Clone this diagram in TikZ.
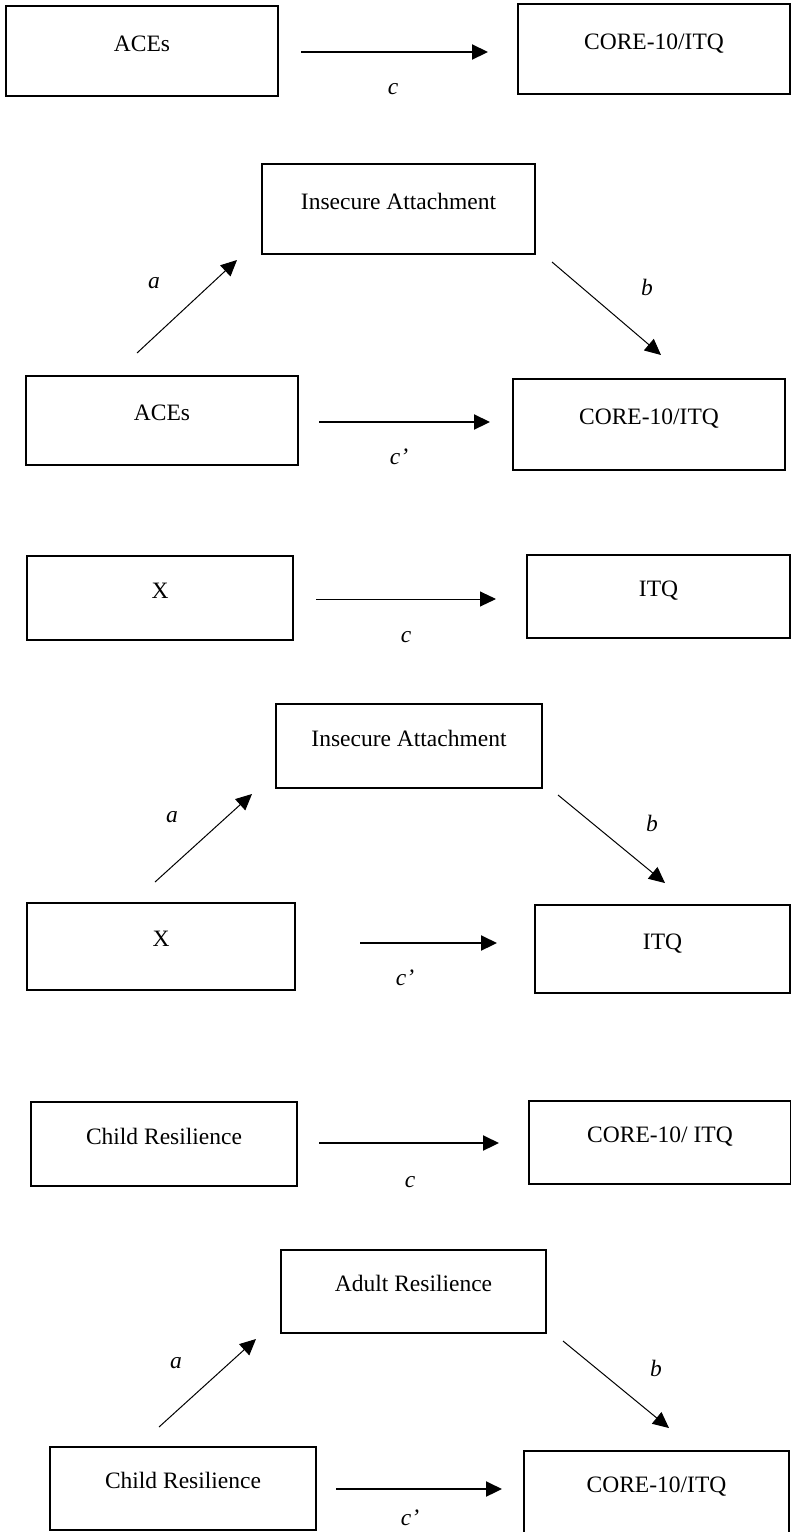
\documentclass[tikz,border=0pt]{standalone}
\usepackage{fontspec}
\setmainfont{Liberation Serif}
\usepackage{tikz}
\usetikzlibrary{arrows.meta}
\tikzstyle{box} = [rectangle, draw, line width=0.9pt, inner sep=0pt, text height=6pt, text depth=6pt]
\tikzstyle{lbl} = [font=\fontsize{11.75}{14}\selectfont\itshape]
\tikzstyle{arr} = [-{Triangle[length=8pt,width=7.5pt]}, line width=1.1pt]
\tikzstyle{thinarr} = [-{Triangle[length=8pt,width=7.5pt]}, line width=0.5pt]

\begin{document}
\begin{tikzpicture}[x=0.5pt, y=-0.5pt, font=\fontsize{11.75}{14}\selectfont]
    \useasboundingbox (0,0) rectangle (791,1532);

    % total effect, ACEs
    \node[box, minimum width=136pt, minimum height=45pt] (aces1) at (142,51) {ACEs};
    \node[box, minimum width=136pt, minimum height=45pt] (core1) at (654,49) {CORE-10/ITQ};
    \coordinate (c1s) at (301,52); \coordinate (c1e) at (488,52);
    \draw[arr] (c1s) -- (c1e);
    \node[lbl] (lc1) at (393,89) {c};

    % mediation, insecure attachment
    \node[box, minimum width=136.5pt, minimum height=45pt] (ins2) at (398.5,209) {Insecure Attachment};
    \node[box, minimum width=136pt, minimum height=44.5pt] (aces2) at (162,420.5) {ACEs};
    \node[box, minimum width=136pt, minimum height=45.5pt] (core2) at (649,424.5) {CORE-10/ITQ};
    \coordinate (a2s) at (137,353); \coordinate (a2e) at (237,260);
    \coordinate (b2s) at (552,262); \coordinate (b2e) at (661,355);
    \coordinate (c2s) at (319,422); \coordinate (c2e) at (490,422);
    \draw[thinarr] (a2s) -- (a2e);
    \draw[thinarr] (b2s) -- (b2e);
    \draw[arr] (c2s) -- (c2e);
    \node[lbl] (la2) at (154,283) {a};
    \node[lbl] (lb2) at (647,287) {b};
    \node[lbl] (lc2) at (399,457) {c'};

    % total effect, X
    \node[box, minimum width=133pt, minimum height=42pt] (x3) at (160,598) {X};
    \node[box, minimum width=131.5pt, minimum height=41.5pt] (itq3) at (658.5,596.5) {ITQ};
    \coordinate (c3s) at (316,599); \coordinate (c3e) at (496,599);
    \draw[thinarr] (c3s) -- (c3e);
    \node[lbl] (lc3) at (406,637) {c};

    % mediation, X
    \node[box, minimum width=133pt, minimum height=42pt] (ins4) at (409,746) {Insecure Attachment};
    \node[box, minimum width=134pt, minimum height=43.5pt] (x4) at (161,946.5) {X};
    \node[box, minimum width=127.5pt, minimum height=44pt] (itq4) at (662.5,949) {ITQ};
    \coordinate (a4s) at (155,882); \coordinate (a4e) at (252,794);
    \coordinate (b4s) at (558,795); \coordinate (b4e) at (665,883);
    \coordinate (c4s) at (360,943); \coordinate (c4e) at (497,943);
    \draw[thinarr] (a4s) -- (a4e);
    \draw[thinarr] (b4s) -- (b4e);
    \draw[arr] (c4s) -- (c4e);
    \node[lbl] (la4) at (172,817) {a};
    \node[lbl] (lb4) at (652,823) {b};
    \node[lbl] (lc4) at (405,978) {c'};

    % total effect, child resilience
    \node[box, minimum width=133pt, minimum height=42pt] (cr5) at (164,1144) {Child Resilience};
    \node[box, minimum width=131pt, minimum height=41.5pt] (core5) at (660,1142.5) {CORE-10/ ITQ};
    \coordinate (c5s) at (319,1143); \coordinate (c5e) at (499,1143);
    \draw[arr] (c5s) -- (c5e);
    \node[lbl] (lc5) at (410,1182) {c};

    % mediation, adult resilience
    \node[box, minimum width=132.5pt, minimum height=41.5pt] (ad6) at (413.5,1291.5) {Adult Resilience};
    \node[box, minimum width=133pt, minimum height=41.5pt] (cr6) at (183,1488.5) {Child Resilience};
    \node[box, minimum width=132.5pt, minimum height=41.5pt] (core6) at (656.5,1492.5) {CORE-10/ITQ};
    \coordinate (a6s) at (159,1427); \coordinate (a6e) at (256,1339);
    \coordinate (b6s) at (563,1341); \coordinate (b6e) at (669,1428);
    \coordinate (c6s) at (336,1489); \coordinate (c6e) at (502,1489);
    \draw[thinarr] (a6s) -- (a6e);
    \draw[thinarr] (b6s) -- (b6e);
    \draw[arr] (c6s) -- (c6e);
    \node[lbl] (la6) at (176,1363) {a};
    \node[lbl] (lb6) at (656,1368) {b};
    \node[lbl] (lc6) at (410,1518) {c'};
\end{tikzpicture}
\end{document}
